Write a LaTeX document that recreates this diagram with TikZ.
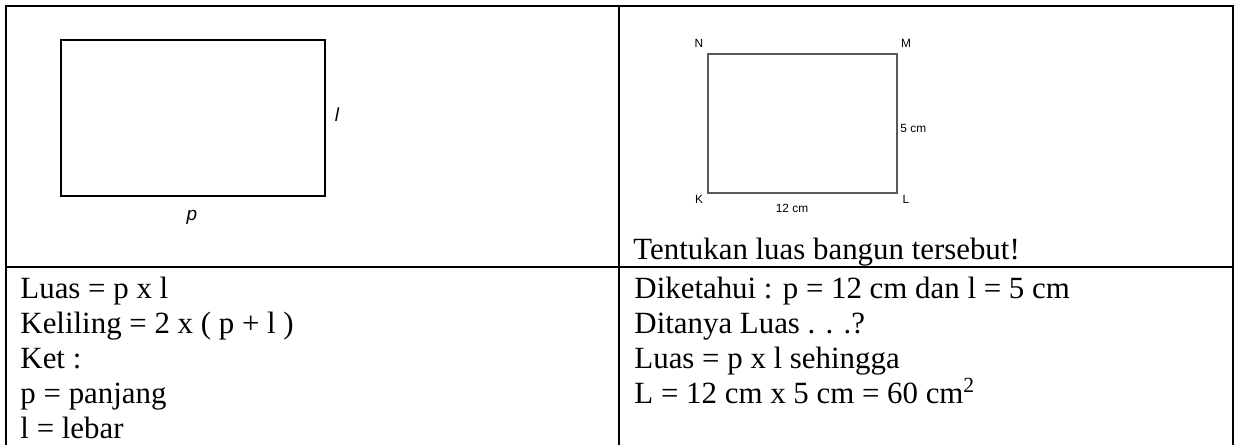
\documentclass[tikz,border=0pt]{standalone}
\usepackage{fontspec}
\setmainfont{Liberation Serif}
\setsansfont{Liberation Sans}
\usetikzlibrary{positioning}

\newcommand{\celltext}{\fontsize{13}{14.7}\selectfont\lineskiplimit -5pt\relax}

\begin{document}
\begin{tikzpicture}[x=0.421pt, y=-0.421pt,
      every node/.style={inner sep=0pt},
      grid/.style={line width=1pt},
      cell/.style={anchor=base west, align=left, font=\celltext},
      bigrect/.style={line width=1.2pt},
      smallrect/.style={line width=0.45pt, draw=black!65},
      corner/.style={font=\sffamily\fontsize{5}{6}\selectfont},
      side/.style={font=\sffamily\itshape\fontsize{8}{9}\selectfont}
    ]
    \useasboundingbox (0,0) rectangle (1238,445);

    % table frame
    \draw[grid] (6,445) -- (6,6) -- (1233,6) -- (1233,445);
    \draw[grid] (619,6) -- (619,445);
    \draw[grid] (6,267) -- (1233,267);

    % general rectangle
    \draw[bigrect] (61,40) rectangle (325,196);
    \node[side] (lside) at (337,115) {l};
    \node[side] (pside) at (192,217) {p};

    % rectangle KLMN
    \coordinate (K) at (708,193);
    \coordinate (L) at (897,193);
    \coordinate (M) at (897,54);
    \coordinate (N) at (708,54);
    \draw[smallrect] (K) -- (L) -- (M) -- (N) -- cycle;
    \node[corner] (nK) at (699,199) {K};
    \node[corner] (nL) at (906,199) {L};
    \node[corner] (nM) at (906,43)  {M};
    \node[corner] (nN) at (699,43)  {N};
    \node[corner, anchor=west] (wide) at (900,128) {5 cm};
    \node[corner] (long) at (792,208) {12 cm};

    \node[cell] (task) at (633,259) {Tentukan luas bangun tersebut!};

    % formulas (anchored at the baseline of the last line)
    \node[cell] (rumus) at (20,438)
      {Luas = p x l\\
       Keliling = 2 x ( p + l )\\
       Ket :\\
       p = panjang\\
       l = lebar};
    \node[cell] (jawab) at (634,403)
      {Diketahui : p = 12 cm dan l = 5 cm\\
       Ditanya Luas . . .?\\
       Luas = p x l sehingga\\
       L = 12 cm x 5 cm = 60 cm\textsuperscript{2}};
  \end{tikzpicture}
\end{document}
